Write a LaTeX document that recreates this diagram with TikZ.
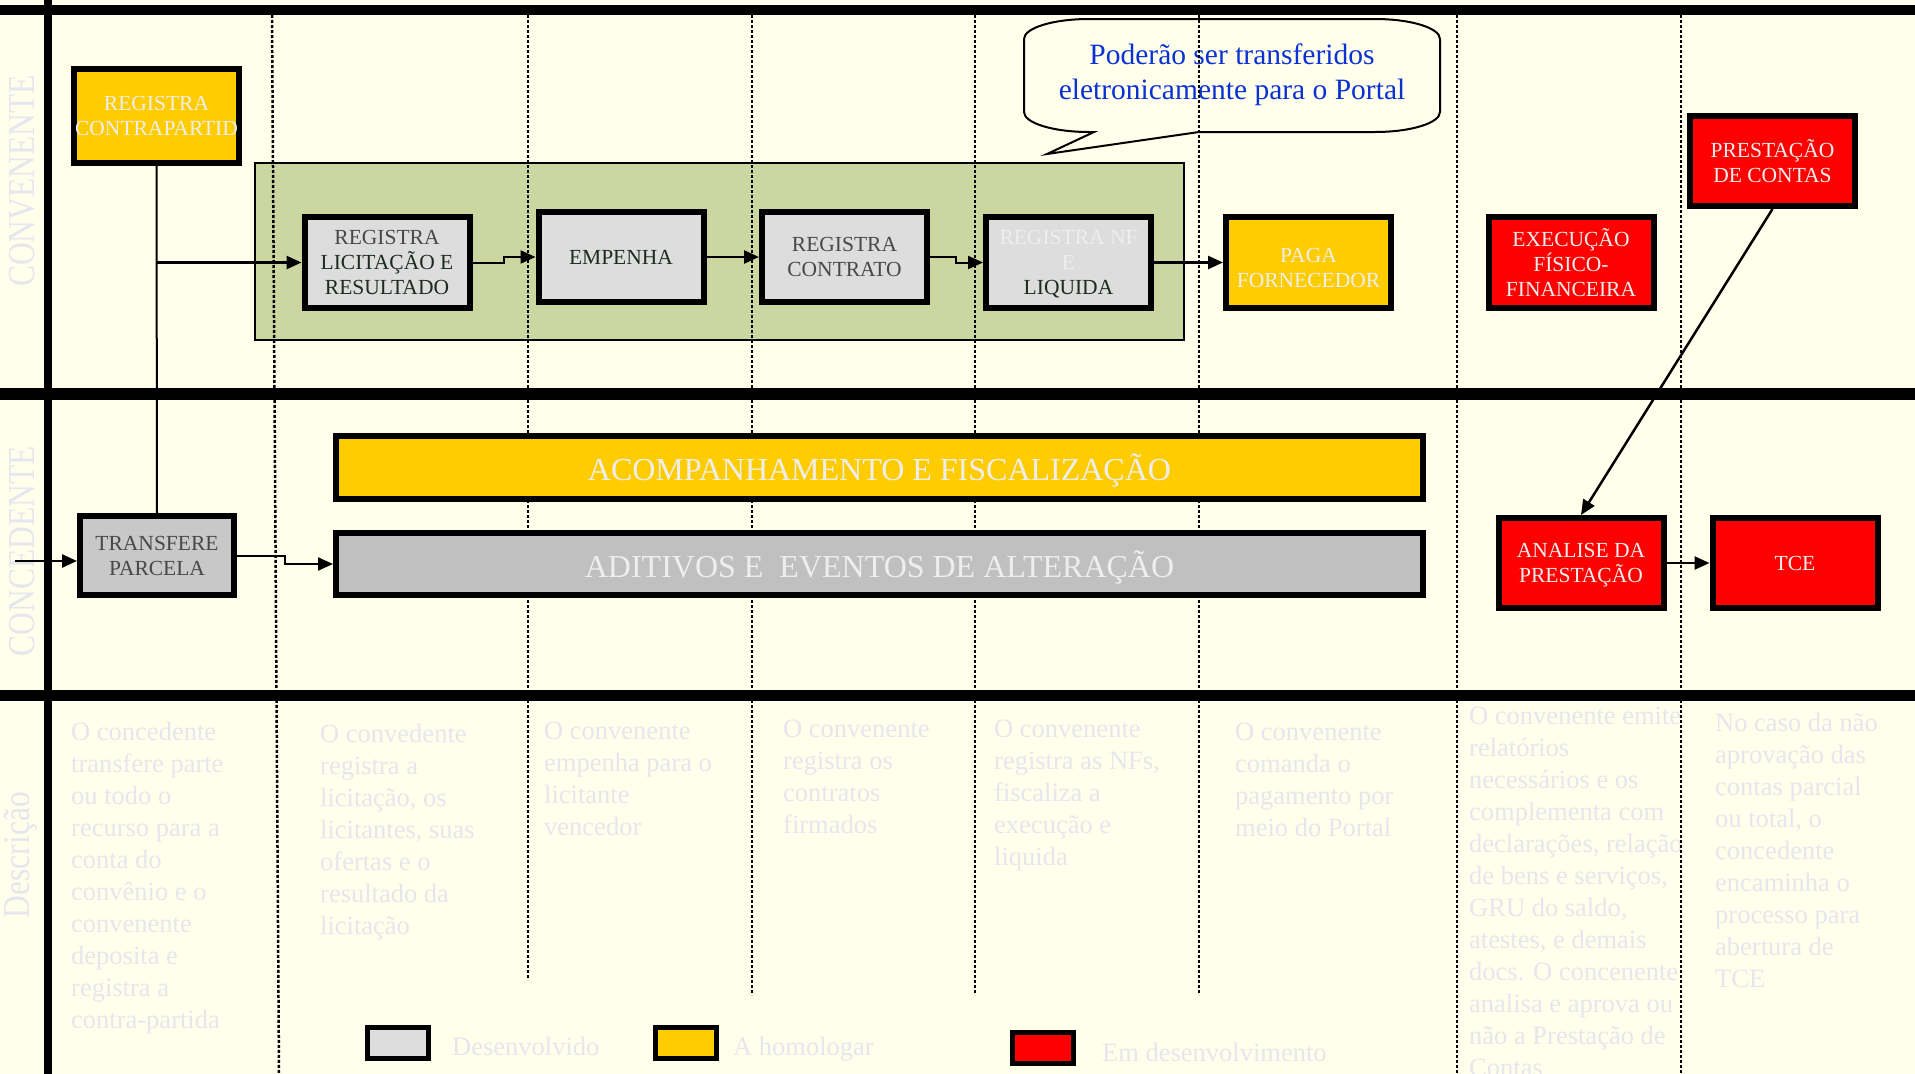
\documentclass[tikz,border=0pt]{standalone}
\usepackage{fontspec}
\usepackage{graphicx}
\setmainfont{Liberation Serif}
\usetikzlibrary{arrows.meta,calc}
\definecolor{bgc}{RGB}{255,255,236}
\definecolor{ylw}{RGB}{255,204,0}
\definecolor{rd}{RGB}{255,0,0}
\definecolor{lgray}{RGB}{221,221,221}
\definecolor{mgray}{RGB}{200,200,200}
\definecolor{bgray}{RGB}{192,192,192}
\definecolor{olivec}{RGB}{204,214,160}
\definecolor{faint}{RGB}{230,230,238}
\definecolor{wtxt}{RGB}{238,238,238}
\definecolor{dtxt}{RGB}{28,44,32}
\definecolor{gtxt}{RGB}{72,72,72}
\definecolor{btxt}{RGB}{10,50,210}
\newcommand{\bxfont}{\fontsize{21.5}{25}\selectfont}
\newcommand{\dscfont}{\fontsize{26.5}{32}\selectfont}
\newcommand{\lnfont}{\fontsize{38}{40}\selectfont}
\newcommand{\brfont}{\fontsize{32}{36}\selectfont}
\newcommand{\clfont}{\fontsize{29.5}{35}\selectfont}
\begin{document}
\begin{tikzpicture}[x=1pt,y=-1pt,
  box/.style={draw=black, line width=6pt, inner sep=0pt, align=center, font=\bxfont,
    minimum width=165pt, minimum height=91pt, text depth=0pt},
  mline/.style={execute at begin node={\vspace*{5pt}}},
  graybox/.style={box, mline, fill=lgray, text=dtxt},
  ylwbox/.style={box, mline, fill=ylw, text=wtxt},
  redbox/.style={box, mline, fill=rd, text=wtxt},
  barbox/.style={box, font=\brfont, text=wtxt, minimum width=1087pt, minimum height=63pt},
  lane/.style={font=\lnfont, text=faint, rotate=90, inner sep=0pt},
  desc/.style={font=\dscfont, text=faint, align=left, inner sep=0pt, anchor=north west},
  legbox/.style={draw=black, line width=5pt, minimum width=61pt, minimum height=31pt, inner sep=0pt},
  legtxt/.style={font=\dscfont, text=faint, anchor=base west, inner sep=0pt},
  dotl/.style={line width=2.5pt, dash pattern=on 3pt off 2pt},
  sep/.style={line width=11pt},
  arr/.style={line width=2.5pt, -{Triangle[length=15pt,width=13pt]}},
  arrthin/.style={line width=2pt, -{Triangle[length=15pt,width=13pt]}},
  thinl/.style={line width=2pt}
]
\useasboundingbox (0,0) rectangle (1915,1074);
\fill[bgc] (0,0) rectangle (1915,1074);

% green container
\node[draw=black, line width=1.5pt, fill=olivec, minimum width=929pt, minimum height=177pt, inner sep=0pt]
  (grp) at (719.5,251.5) {};

% callout
\draw[line width=2pt, fill=bgc] (1024,39) .. controls (1024,28) and (1053,19) .. (1089,19)
  -- (1375,19) .. controls (1411,19) and (1440,28) .. (1440,39)
  -- (1440,112) .. controls (1440,123) and (1411,132) .. (1375,132)
  -- (1199,132) -- (1047,154) -- (1094,132) -- (1089,132)
  .. controls (1053,132) and (1024,123) .. (1024,112) -- cycle;
\node[font=\clfont, text=btxt, align=center, inner sep=0pt] (callout) at (1232,75)
  {Poderão ser transferidos\\eletronicamente para o Portal};

% description texts
\node[desc] (d1) at (71,722) {O concedente\\transfere parte\\ou todo o\\recurso para a\\conta do\\convênio e o\\convenente\\deposita e\\registra a\\contra-partida};
\node[desc] (d2) at (320,724) {O convedente\\registra a\\licitação, os\\licitantes, suas\\ofertas e o\\resultado da\\licitação};
\node[desc] (d3) at (544,722) {O convenente\\empenha para o\\licitante\\vencedor};
\node[desc] (d4) at (783,720) {O convenente\\registra os\\contratos\\firmados};
\node[desc] (d5) at (994,720) {O convenente\\registra as NFs,\\fiscaliza a\\execução e\\liquida};
\node[desc] (d6) at (1235,723) {O convenente\\comanda o\\pagamento por\\meio do Portal};
\node[desc] (d7) at (1469,707) {O convenente emite\\relatórios\\necessários e os\\complementa com\\declarações, relação\\de bens e serviços,\\GRU do saldo,\\atestes, e demais\\docs. O concenente\\analisa e aprova ou\\não a Prestação de\\Contas};
\node[desc] (d8) at (1715,713) {No caso da não\\aprovação das\\contas parcial\\ou total, o\\concedente\\encaminha o\\processo para\\abertura de\\TCE};

% lane labels
\node[lane] (l1) at (22.5,181) {\scalebox{0.83}[1]{CONVENENTE}};
\node[lane] (l2) at (22.5,551) {\scalebox{0.83}[1]{CONCEDENTE}};
\node[lane] (l3) at (21,855) {\scalebox{0.83}[1]{Descrição}};

% dotted column lines
\draw[dotl] (272,15) -- (279,1074);
\draw[dotl] (528,15) -- (528,980);
\draw[dotl] (752,15) -- (752,995);
\draw[dotl] (975,15) -- (975,995);
\draw[dotl] (1199,15) -- (1199,995);
\draw[dotl] (1457,15) -- (1457,1074);
\draw[dotl] (1681,15) -- (1681,1074);

% frame lines
\draw[line width=10pt] (0,10) -- (1915,10);
\draw[line width=12pt] (0,394) -- (1915,394);
\draw[sep] (0,695.5) -- (1915,695.5);
\draw[line width=7.5pt] (48,0) -- (48,1074);

% nodes
\node[ylwbox, minimum height=94pt] (contra) at (156.5,116) {REGISTRA\\CONTRAPARTID};
\node[graybox] (lic) at (387,262.5) {\textcolor{gtxt}{REGISTRA}\\LICITAÇÃO E\\RESULTADO};
\node[graybox, minimum height=90pt] (emp) at (621,257) {EMPENHA};
\node[graybox, minimum height=90pt, text=gtxt] (contrato) at (844.5,257) {REGISTRA\\CONTRATO};
\node[graybox] (nf) at (1068.5,262.5) {\textcolor{wtxt}{REGISTRA NF}\\\textcolor{wtxt}{E}\\LIQUIDA};
\node[ylwbox] (paga) at (1308.5,262.5) {\mbox{}\\PAGA\\FORNECEDOR};
\node[redbox] (exec) at (1571,262.5) {EXECUÇÃO\\FÍSICO-\\FINANCEIRA};
\node[redbox, minimum height=90pt] (prest) at (1772.5,161) {PRESTAÇÃO\\DE CONTAS};
\node[box, mline, fill=mgray, text=gtxt, minimum width=154pt, minimum height=79pt] (transf) at (157,555.5) {TRANSFERE\\PARCELA};
\node[barbox, fill=ylw] (acomp) at (879.5,467.5) {ACOMPANHAMENTO E FISCALIZAÇÃO};
\node[barbox, fill=bgray, minimum height=62pt] (adit) at (879.5,564) {ADITIVOS E\ \ EVENTOS DE ALTERAÇÃO};
\node[redbox, minimum height=90pt] (analise) at (1581,563) {ANALISE DA\\PRESTAÇÃO};
\node[redbox, minimum height=90pt] (tce) at (1795,563) {TCE};

% connectors
\coordinate (j1) at (contra.south |- lic.west);
\draw[thinl] (contra.south) -- (transf.north);
\draw[arr] (j1) -- (lic.west);
\draw[arrthin] (lic.east) -- ++(31,0) |- (emp.west);
\draw[arr] (emp.east) -- (contrato.west);
\draw[arrthin] (contrato.east) -- ++(26,0) |- (nf.west);
\draw[arr] (nf.east) -- (paga.west);
\coordinate (ext) at (15,561);
\draw[arr] (ext) -- (ext -| transf.west);
\draw[arrthin] (transf.east) -- ++(48,0) |- (adit.west);
\draw[arr] (prest.south) -- (analise.north);
\draw[arr] (analise.east) -- (tce.west);

% legend
\node[legbox, fill=lgray] (lg1) at (398,1043) {};
\node[legtxt] (lt1) at (452,1055) {Desenvolvido};
\node[legbox, fill=ylw] (lg2) at (685.5,1043) {};
\node[legtxt] (lt2) at (733,1055) {A homologar};
\node[legbox, fill=rd] (lg3) at (1043,1048) {};
\node[legtxt] (lt3) at (1102,1061) {Em desenvolvimento};
\end{tikzpicture}
\end{document}
